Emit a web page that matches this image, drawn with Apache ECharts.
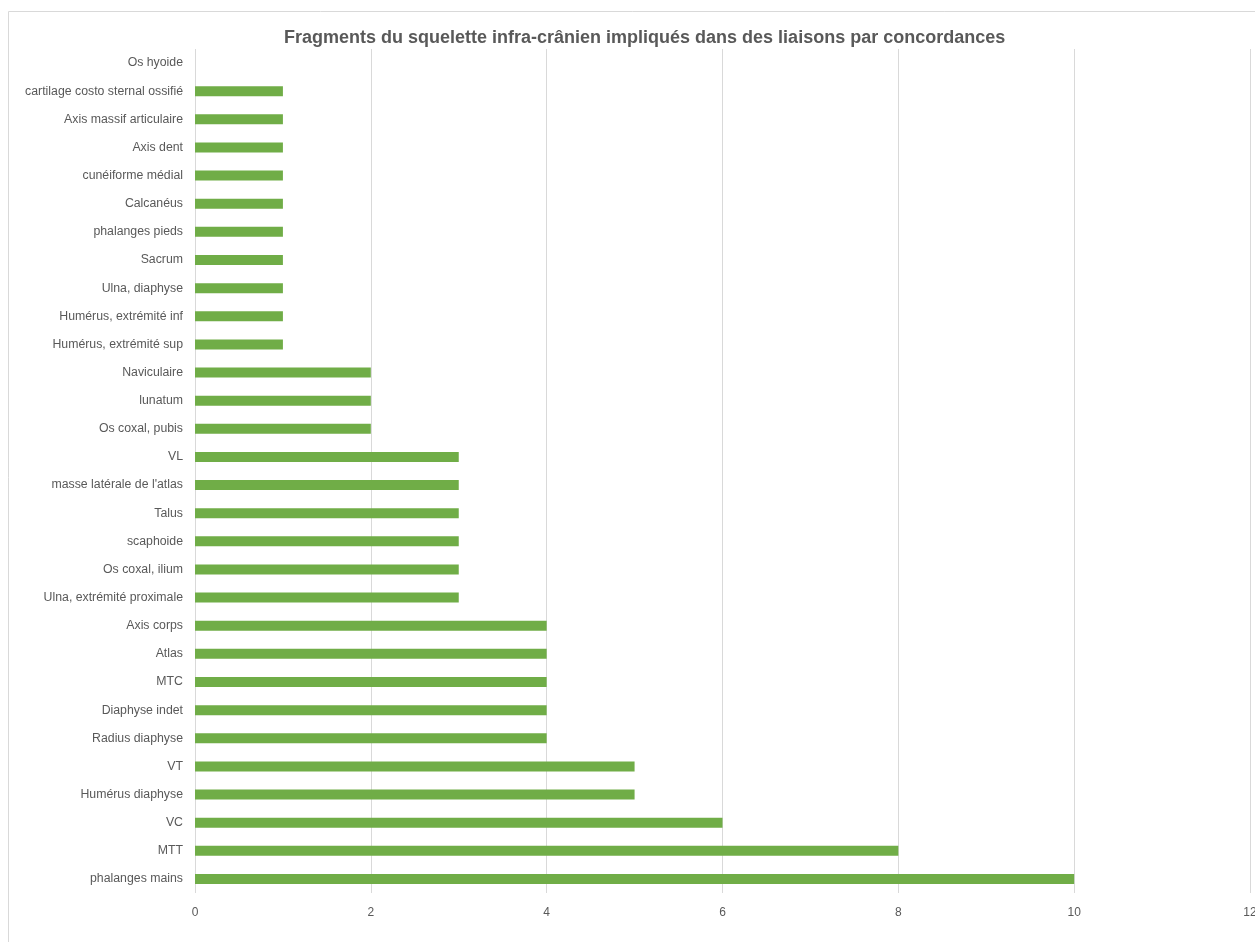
<!DOCTYPE html>
<html><head><meta charset="utf-8">
<script src="https://cdn.jsdelivr.net/npm/echarts@6/dist/echarts.min.js"></script>
<style>html,body{margin:0;padding:0;background:#fff}#c{width:1255px;height:942px}</style>
</head><body><div id="c"></div>
<script>
const categories = ["phalanges mains","MTT","VC","Humérus diaphyse","VT","Radius diaphyse","Diaphyse indet","MTC","Atlas","Axis corps","Ulna, extrémité proximale","Os coxal, ilium","scaphoide","Talus","masse latérale de l'atlas","VL","Os coxal, pubis","lunatum","Naviculaire","Humérus, extrémité sup","Humérus, extrémité inf","Ulna, diaphyse","Sacrum","phalanges pieds","Calcanéus","cunéiforme médial","Axis dent","Axis massif articulaire","cartilage costo sternal ossifié","Os hyoide"];
const values = [10,8,6,5,5,4,4,4,4,4,3,3,3,3,3,3,2,2,2,1,1,1,1,1,1,1,1,1,1,0];
const titleText = "Fragments du squelette infra-crânien impliqués dans des liaisons par concordances";
const chart = echarts.init(document.getElementById('c'));
chart.setOption({
  animation:false,
  graphic:[{type:'rect',shape:{x:8.5,y:11.5,width:1400,height:1000},style:{fill:'none',stroke:'#d9d9d9',lineWidth:1},silent:true}],
  title:{text:titleText,left:284,top:29,padding:0,textStyle:{fontFamily:'Liberation Sans',fontSize:18,fontWeight:'bold',color:'#595959'}},
  grid:{left:195,right:5,top:49,bottom:49,containLabel:false,outerBoundsMode:'none'},
  xAxis:{type:'value',min:0,max:12,interval:2,axisLine:{show:false},axisTick:{show:false},
    axisLabel:{color:'#595959',fontFamily:'Liberation Sans',fontSize:12,margin:14,showMaxLabel:true},
    splitLine:{show:true,lineStyle:{color:'#d9d9d9',width:1}}},
  yAxis:{type:'category',data:categories,axisLine:{show:false},axisTick:{show:false},
    axisLabel:{color:'#595959',fontFamily:'Liberation Sans',fontSize:12.3,margin:12,interval:0}},
  series:[{type:'bar',data:values,barWidth:10,itemStyle:{color:'#70AD47'}}]
});
</script></body></html>
